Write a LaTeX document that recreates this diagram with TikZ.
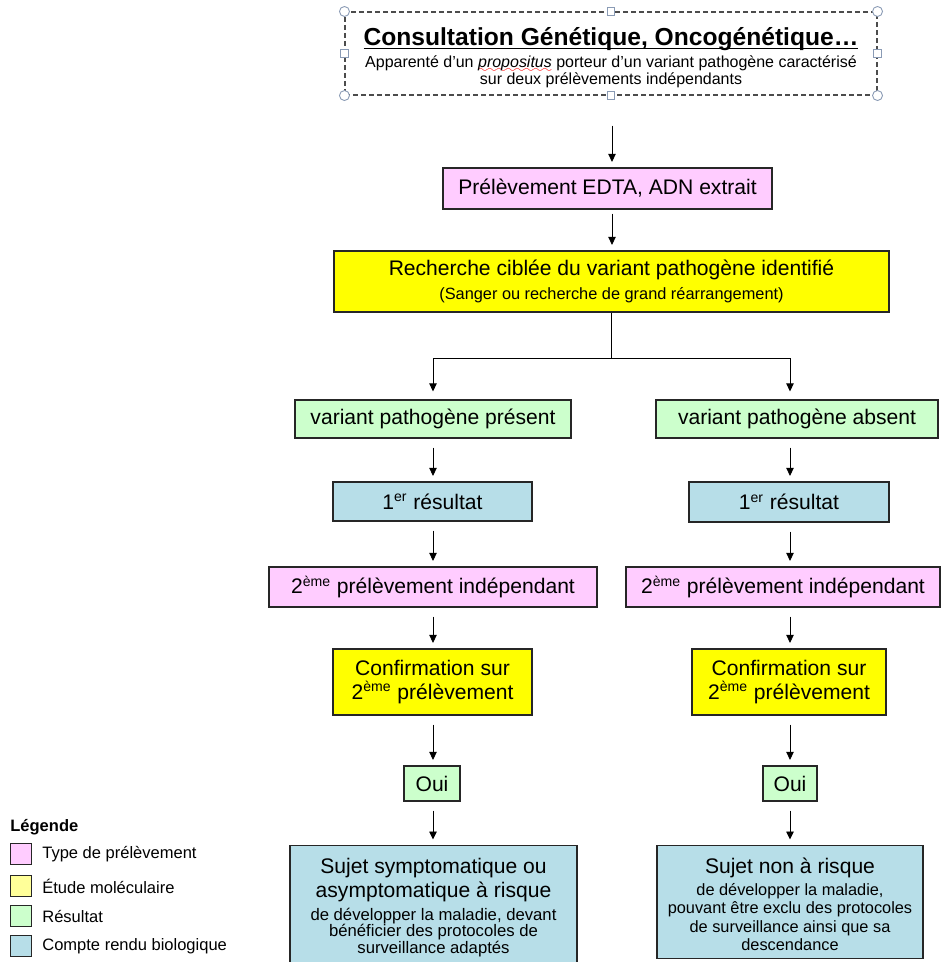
\documentclass[tikz,border=0pt]{standalone}
\usepackage{fontspec}
\setmainfont{Liberation Sans}
\usetikzlibrary{arrows.meta}

\definecolor{rosePrel}{HTML}{FFCCFF}
\definecolor{jauneEtude}{HTML}{FFFF00}
\definecolor{jauneLeg}{HTML}{FFFF99}
\definecolor{vertRes}{HTML}{CCFFCC}
\definecolor{bleuCR}{HTML}{B7DEE8}
\definecolor{poignee}{HTML}{8A9BB5}

\font\vaguefont=lasy6
\newcommand\souligne[1]{\setbox0\hbox{#1}\rlap{\rule[-2.2pt]{\wd0}{0.9pt}}\box0\relax}
\newcommand\soulignefaute[1]{\setbox0\hbox{#1}\rlap{\color{red}\raisebox{-2.6pt}{\hbox to \wd0{\xleaders\hbox{\vaguefont\char58}\hfil}}}\box0\relax}

\tikzset{
  boite/.style={draw=black!85, line width=0.7pt, inner sep=1pt, align=center, font=\fontsize{12}{13.7}\selectfont},
  prel/.style={boite, fill=rosePrel},
  etude/.style={boite, fill=jauneEtude},
  res/.style={boite, fill=vertRes},
  cr/.style={boite, fill=bleuCR},
  fleche/.style={-{Triangle[length=1.6mm,width=1.5mm]}, line width=0.5pt, shorten <=1.8mm, shorten >=1.1mm},
  legcase/.style={draw=black!85, line width=0.7pt, minimum width=4.3mm, minimum height=4.3mm, inner sep=0pt},
  legtexte/.style={anchor=west, inner sep=0pt, font=\fontsize{9.4}{11}\selectfont},
  hdl/.style={draw=poignee, fill=white, line width=0.5pt}
}

\begin{document}
\begin{tikzpicture}[x=0.2mm,y=-0.2mm]
  \useasboundingbox (0,0) rectangle (943,962);

  % en-tete
  \node[draw=black!70, dash pattern=on 1mm off 0.6mm, line width=0.6pt, minimum width=106.4mm, minimum height=16.6mm,
        inner sep=0pt] (consult) at (611,53.5) {};
  \node[inner sep=0pt, font=\fontsize{14}{16}\selectfont\bfseries] (titre) at (611,39)
    {\souligne{Consultation Génétique, Oncogénétique…}};
  \node[inner sep=0pt, text width=105mm, align=flush center, font=\fontsize{9.1}{9.7}\selectfont] (soustitre) at (611,72)
    {\lineskiplimit=-\maxdimen Apparenté d’un \soulignefaute{\textit{propositus}} porteur d’un variant pathogène caractérisé\\ sur deux prélèvements indépendants};
  \foreach \c in {north west,north east,south west,south east}
    \draw[hdl] (consult.\c) circle (1mm);
  \foreach \c in {north,south,east,west}
    \draw[hdl] ([shift={(-0.75mm,-0.75mm)}]consult.\c) rectangle ++(1.5mm,1.5mm);

  % tronc commun
  \node[prel, minimum width=65.8mm, minimum height=8.2mm] (prelevA) at (607.5,188.5) {Prélèvement EDTA, ADN extrait};
  \node[etude, minimum width=111mm, minimum height=12.2mm, text width=108mm, align=flush center] (recherche) at (611.5,281.5)
    {{\fontsize{12}{14}\selectfont Recherche ciblée du variant pathogène identifié\par}
     {\fontsize{9.3}{13.7}\selectfont (Sanger ou recherche de grand réarrangement)\par}};

  % branche gauche
  \node[res, minimum width=55.2mm, minimum height=7.6mm] (presentV) at (433,419) {variant pathogène présent};
  \node[cr, minimum width=39.8mm, minimum height=7.8mm] (res1G) at (432.5,501.5) {1\textsuperscript{er} résultat};
  \node[prel, minimum width=65.6mm, minimum height=8mm] (prel2G) at (433,587) {2\textsuperscript{ème} prélèvement indépendant};
  \node[etude, minimum width=39.8mm, minimum height=13.2mm] (confG) at (432.5,682) {Confirmation sur\\ 2\textsuperscript{ème} prélèvement};
  \node[res, minimum width=11.2mm, minimum height=7mm] (ouiG) at (432,783.5) {Oui};
  \node[cr, minimum width=57.4mm, minimum height=28mm, anchor=north] (sujetG) at (433.5,845) {};
  \node[anchor=north, text width=57mm, align=flush center, inner sep=0pt] (sujetGtxt) at ([yshift=-2.6mm]sujetG.north)
    {\lineskiplimit=-\maxdimen
     {\fontsize{12}{13.7}\selectfont Sujet symptomatique ou\\ asymptomatique à risque\par}\vspace{3.2pt}
     {\fontsize{9.5}{9.5}\selectfont de développer la maladie, devant\\ bénéficier des protocoles de\\ surveillance adaptés\par}};

  % branche droite
  \node[res, minimum width=56.4mm, minimum height=7.6mm] (absentV) at (797,419) {variant pathogène absent};
  \node[cr, minimum width=40mm, minimum height=8mm] (res1D) at (789,502) {1\textsuperscript{er} résultat};
  \node[prel, minimum width=62.8mm, minimum height=8mm] (prel2D) at (783,587) {2\textsuperscript{ème} prélèvement indépendant};
  \node[etude, minimum width=38.8mm, minimum height=13.2mm] (confD) at (789,682) {Confirmation sur\\ 2\textsuperscript{ème} prélèvement};
  \node[res, minimum width=10.8mm, minimum height=7mm] (ouiD) at (790,783.5) {Oui};
  \node[cr, minimum width=53.2mm, minimum height=22.6mm, anchor=north] (sujetD) at (790,845) {};
  \node[anchor=north, text width=53mm, align=flush center, inner sep=0pt] (sujetDtxt) at ([yshift=-2.6mm]sujetD.north)
    {\lineskiplimit=-\maxdimen
     {\fontsize{12}{14}\selectfont Sujet non à risque\par}\vspace{2pt}
     {\fontsize{9.3}{10.4}\selectfont de développer la maladie,\\ pouvant être exclu des protocoles\\ de surveillance ainsi que sa\\ descendance\par}};

  % fleches
  \coordinate (axe) at (612,0);
  \coordinate (fourche) at (611,358);
  \coordinate (colG) at (433,358);
  \coordinate (colD) at (790,358);
  \draw[fleche, shorten <=6mm] (consult.south -| axe) -- (prelevA.north -| axe);
  \draw[fleche, shorten <=0.8mm] (prelevA.south -| axe) -- (recherche.north -| axe);
  \draw[line width=0.5pt] (recherche.south -| fourche) -- (fourche);
  \draw[line width=0.5pt] (colG) -- (colD);
  \draw[fleche, shorten <=0pt, shorten >=1.6mm] (colG) -- (presentV.north -| colG);
  \draw[fleche, shorten <=0pt, shorten >=1.6mm] (colD) -- (absentV.north -| colD);
  \foreach \a/\b in {presentV/res1G, res1G/prel2G, prel2G/confG, confG/ouiG, ouiG/sujetG}
    \draw[fleche] (\a.south -| colG) -- (\b.north -| colG);
  \foreach \a/\b in {absentV/res1D, res1D/prel2D, prel2D/confD, confD/ouiD, ouiD/sujetD}
    \draw[fleche] (\a.south -| colD) -- (\b.north -| colD);

  % legende
  \node[anchor=west, inner sep=0pt, font=\fontsize{9.4}{11}\selectfont\bfseries] (legende) at (10,827) {Légende};
  \node[legcase, fill=rosePrel] (leg1) at (21,854) {};
  \node[legtexte] (leg1t) at (42,854) {Type de prélèvement};
  \node[legcase, fill=jauneLeg] (leg2) at (21,886) {};
  \node[legtexte] (leg2t) at (42,886) {Étude moléculaire};
  \node[legcase, fill=vertRes] (leg3) at (21,916) {};
  \node[legtexte] (leg3t) at (42,916) {Résultat};
  \node[legcase, fill=bleuCR] (leg4) at (21,946) {};
  \node[legtexte] (leg4t) at (42,946) {Compte rendu biologique};
\end{tikzpicture}
\end{document}
